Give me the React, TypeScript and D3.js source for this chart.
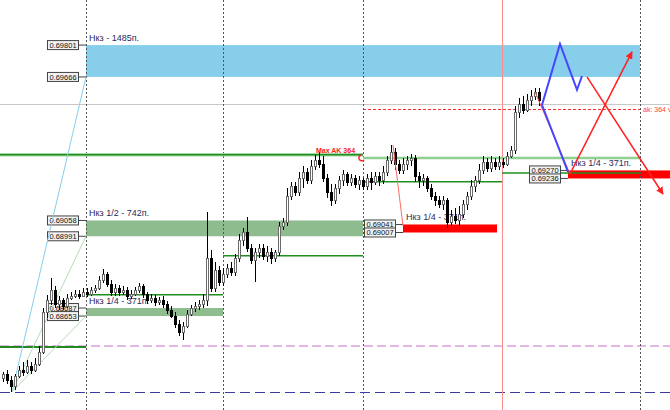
import React from "react";
import * as d3 from "d3";

const W = 670;
const H = 410;

// ---- candle data (bar index = position in array) ----
const opens = [0.68391,0.68408,0.68382,0.68357,0.684,0.68425,0.68417,0.68442,0.68425,0.6845,0.68501,0.68671,0.68721,0.68764,0.68704,0.68721,0.68696,0.6873,0.68739,0.68747,0.68739,0.68756,0.68747,0.68764,0.68772,0.68806,0.68831,0.68789,0.68756,0.68772,0.68756,0.68764,0.68739,0.68747,0.68764,0.68781,0.68747,0.68721,0.6873,0.68713,0.68721,0.68704,0.68679,0.68654,0.68619,0.68586,0.68611,0.68662,0.68687,0.68696,0.68704,0.68721,0.68899,0.68772,0.68848,0.68798,0.68831,0.68857,0.6884,0.68899,0.68975,0.6901,0.68941,0.68891,0.68925,0.68941,0.68908,0.68925,0.68899,0.68925,0.69035,0.69052,0.69162,0.69205,0.69179,0.69238,0.69264,0.6923,0.69289,0.69314,0.69297,0.69238,0.69179,0.69145,0.69196,0.6923,0.69255,0.69222,0.69238,0.69213,0.6923,0.69205,0.69238,0.69222,0.69247,0.6923,0.69264,0.69314,0.69349,0.69297,0.69272,0.69297,0.69314,0.69323,0.69247,0.6923,0.69238,0.69196,0.69162,0.69145,0.69128,0.69145,0.69052,0.69077,0.6906,0.69085,0.69128,0.69162,0.69205,0.6923,0.69272,0.69306,0.6928,0.69306,0.69289,0.69306,0.69297,0.69332,0.69357,0.69518,0.69551,0.69526,0.69568,0.69586,0.69603];
const highs = [0.68417,0.68425,0.684,0.68408,0.68442,0.68459,0.68467,0.68459,0.68475,0.68527,0.68687,0.68743,0.68814,0.68781,0.68739,0.6873,0.68747,0.68756,0.68764,0.68764,0.68772,0.68772,0.68776,0.68785,0.68823,0.68853,0.6884,0.68806,0.68789,0.68785,0.68781,0.68776,0.68764,0.68776,0.68793,0.68789,0.68756,0.68747,0.68743,0.68734,0.68739,0.68717,0.68696,0.68671,0.68636,0.68628,0.68679,0.687,0.68713,0.68721,0.68747,0.69094,0.68933,0.68883,0.68866,0.68857,0.68874,0.68883,0.68916,0.69001,0.69026,0.69072,0.68958,0.68941,0.68958,0.68958,0.6895,0.68941,0.68933,0.69052,0.69068,0.69196,0.69222,0.69222,0.69264,0.69289,0.6928,0.69314,0.69336,0.69349,0.69332,0.69255,0.69213,0.69213,0.69247,0.69272,0.69264,0.69255,0.69251,0.69247,0.69238,0.69255,0.69264,0.69264,0.69264,0.69289,0.69332,0.69378,0.69365,0.69314,0.69323,0.69332,0.6934,0.69336,0.69264,0.69255,0.69247,0.69213,0.69179,0.69162,0.69162,0.69153,0.69102,0.69111,0.6912,0.69145,0.69179,0.6923,0.69247,0.69297,0.69332,0.69323,0.69332,0.69323,0.69332,0.69323,0.69349,0.69374,0.69543,0.69577,0.69586,0.69594,0.69611,0.69619,0.69619];
const lows = [0.68374,0.68365,0.68332,0.6834,0.68391,0.684,0.68408,0.68408,0.68417,0.68442,0.68492,0.68645,0.687,0.68687,0.68679,0.68679,0.68687,0.68721,0.6873,0.68726,0.68734,0.68734,0.68739,0.68751,0.68764,0.68793,0.68776,0.68739,0.68739,0.68739,0.68743,0.68721,0.68726,0.68739,0.68751,0.6873,0.68704,0.68708,0.68696,0.687,0.68687,0.68662,0.68645,0.68602,0.68569,0.68552,0.68602,0.68654,0.68671,0.68679,0.68687,0.68696,0.68756,0.68756,0.68781,0.68781,0.68814,0.68823,0.68823,0.68883,0.6895,0.68925,0.68874,0.68798,0.68899,0.68891,0.68883,0.68874,0.68883,0.68908,0.69018,0.69035,0.69145,0.69162,0.69162,0.69196,0.69213,0.69213,0.69272,0.6928,0.69222,0.69153,0.6912,0.69128,0.6917,0.69205,0.69205,0.69205,0.69196,0.69187,0.69187,0.69187,0.69187,0.69209,0.69205,0.69213,0.69247,0.69297,0.69272,0.69255,0.69255,0.69272,0.69289,0.69222,0.69196,0.69205,0.69179,0.69145,0.6912,0.69111,0.69102,0.69026,0.69035,0.69043,0.69035,0.69068,0.69102,0.69145,0.69179,0.69213,0.69255,0.69264,0.69264,0.69272,0.69272,0.6928,0.69289,0.69323,0.6934,0.69492,0.69509,0.69518,0.69543,0.69568,0.69543];
const closes = [0.68408,0.68382,0.68357,0.684,0.68425,0.68417,0.68442,0.68425,0.6845,0.68501,0.68671,0.68721,0.68764,0.68704,0.68721,0.68696,0.6873,0.68739,0.68747,0.68739,0.68756,0.68747,0.68764,0.68772,0.68806,0.68831,0.68789,0.68756,0.68772,0.68756,0.68764,0.68739,0.68747,0.68764,0.68781,0.68747,0.68721,0.6873,0.68713,0.68721,0.68704,0.68679,0.68654,0.68619,0.68586,0.68611,0.68662,0.68687,0.68696,0.68704,0.68721,0.68899,0.68772,0.68848,0.68798,0.68831,0.68857,0.6884,0.68899,0.68975,0.6901,0.68941,0.68891,0.68925,0.68941,0.68908,0.68925,0.68899,0.68925,0.69035,0.69052,0.69162,0.69205,0.69179,0.69238,0.69264,0.6923,0.69289,0.69314,0.69297,0.69238,0.69179,0.69145,0.69196,0.6923,0.69255,0.69222,0.69238,0.69213,0.6923,0.69205,0.69238,0.69222,0.69247,0.6923,0.69264,0.69314,0.69349,0.69297,0.69272,0.69297,0.69314,0.69323,0.69247,0.6923,0.69238,0.69196,0.69162,0.69145,0.69128,0.69145,0.69052,0.69077,0.6906,0.69085,0.69128,0.69162,0.69205,0.6923,0.69272,0.69306,0.6928,0.69306,0.69289,0.69306,0.69297,0.69332,0.69357,0.69518,0.69551,0.69526,0.69568,0.69586,0.69603,0.69568];

// ---- chart frame in data units ----
const priceDomain = [0.68255, 0.69992];
const barDomain = [0, 166];

// period separators and current-bar marker (bar units)
const separatorBars = [20.75, 55, 90, 159.25];
const currentBar = 124.75;

// zones
const zoneTops = [0.69801, 0.69058, 0.68687, 0.69041, 0.6927];
const zoneBottoms = [0.69666, 0.68991, 0.68653, 0.69007, 0.69236];
const zoneStarts = [20.75, 20.75, 20.75, 100, 141.25];
const zoneEnds = [159.25, 90, 55, 123.5, 172];
const zoneNames = ["Нкз - 1485п.", "Нкз 1/2 - 742п.", "Нкз 1/4 - 371п.", "Нкз 1/4 - 371п.", "Нкз 1/4 - 371п."];
const zoneTopLabels = ["0.69801", "0.69058", "0.68687", "0.69041", "0.69270"];
const zoneBottomLabels = ["0.69666", "0.68991", "0.68653", "0.69007", "0.69236"];

// horizontal levels
const levelPrices = [0.69336, 0.69323, 0.69222, 0.69259, 0.68908, 0.68743, 0.68522];
const levelStarts = [-1, 90, 90, 124.75, 55, 20.75, -1];
const levelEnds = [90, 159.25, 124.75, 159.25, 90, 55, 20.75];

const bidPrice = 0.69551;
const askPrice = 0.6953;
const askSpan = [90, 159.25];
const pinkLevel = 0.68526;
const blueLevel = 0.68332;

// drawn projections
const bluePathBars = [141.25, 134.75, 139.25, 143.5, 144.75];
const bluePathPrices = [0.69264, 0.69547, 0.69806, 0.69611, 0.6967];
const redLineBars = [133, 141.75];
const redLinePrices = [0.69603, 0.69255];
const arrowUpBars = [141.75, 157.25];
const arrowUpPrices = [0.69255, 0.69772];
const arrowDownBars = [146, 165];
const arrowDownPrices = [0.69666, 0.6917];
const pinkLineBars = [97.5, 100];
const pinkLinePrices = [0.69378, 0.69035];

// fan from the low
const fanOriginBar = 2.25;
const fanOriginPrice = 0.68332;
const fanEndBar = 20.75;
const fanEndPrices = [0.69666, 0.68991, 0.68653];

const maxLabelBar = 78.25;
const maxLabelPrice = 0.69336;
const maxLabel = "Max AK 364";
const askLabel = "ak: 364 v";

export default function App() {
  const x = d3.scaleLinear().domain(barDomain).range([3, 667]);
  const y = d3.scaleLinear().domain(priceDomain).range([H, 0]);
  const line = d3.line<[number, number]>().x((d) => x(d[0])).y((d) => y(d[1]));
  const pts = (bs: number[], ps: number[]) => bs.map((b, i) => [b, ps[i]] as [number, number]);

  const zoneFill = ["#87ceeb", "#8fbc8f", "#8fbc8f", "#ff0000", "#ff0000"];
  const font = "'Liberation Sans', Arial, sans-serif";

  const levelStyle = (i: number) => {
    if (i === 1) return { stroke: "#8fcf8f", w: 2.5 };
    if (i === 6) return { stroke: "#1f8a1f", w: 2 };
    return { stroke: "#1f8f1f", w: 1.5 };
  };

  const priceBox = (px: number, py: number, label: string, key: string) => (
    <g key={key}>
      <line x1={px - 7} x2={px} y1={py} y2={py} stroke="#444" strokeWidth={1} />
      <rect x={px - 38.5} y={py - 4.5} width={31} height={9} fill="#f2f2f2" stroke="#444" strokeWidth={1} />
      <text x={px - 23} y={py + 3} fontSize={7.5} fontFamily={font} textAnchor="middle" fill="#111">
        {label}
      </text>
    </g>
  );

  return (
    <svg width={W} height={H} style={{ position: "absolute", left: 0, top: 0, background: "#fff" }}>
      <defs>
        <marker id="arrRed" viewBox="0 0 10 10" refX="9" refY="5" markerWidth="5" markerHeight="5" orient="auto">
          <path d="M0,0 L10,5 L0,10 z" fill="#ff2020" />
        </marker>
      </defs>

      {/* zones */}
      {zoneTops.map((t, i) => (
        <rect
          key={"z" + i}
          x={x(zoneStarts[i])}
          y={y(t)}
          width={Math.min(W, x(zoneEnds[i])) - x(zoneStarts[i])}
          height={y(zoneBottoms[i]) - y(t)}
          fill={zoneFill[i]}
        />
      ))}

      {/* full-width lines */}
      <line x1={0} x2={W} y1={Math.round(y(bidPrice)) + 0.5} y2={Math.round(y(bidPrice)) + 0.5} stroke="#c8c8c8" strokeWidth={1} />
      <line x1={0} x2={W} y1={y(pinkLevel)} y2={y(pinkLevel)} stroke="#d8a0dc" strokeWidth={1.5} strokeDasharray="9,4" />
      <line x1={0} x2={W} y1={Math.round(y(blueLevel)) + 0.5} y2={Math.round(y(blueLevel)) + 0.5} stroke="#3a3aa0" strokeWidth={1} strokeDasharray="10,5" />
      <line x1={x(askSpan[0])} x2={x(askSpan[1])} y1={Math.round(y(askPrice)) + 0.5} y2={Math.round(y(askPrice)) + 0.5} stroke="#ff2a2a" strokeWidth={1} strokeDasharray="3,2" />

      {/* separators */}
      {separatorBars.map((b, i) => (
        <line key={"s" + i} x1={Math.round(x(b)) + 0.5} x2={Math.round(x(b)) + 0.5} y1={0} y2={H} stroke="#555" strokeWidth={1} strokeDasharray="2,2" />
      ))}
      <line x1={Math.round(x(currentBar)) + 0.5} x2={Math.round(x(currentBar)) + 0.5} y1={0} y2={H} stroke="#ff8c8c" strokeWidth={1} />

      {/* green levels */}
      <line x1={x(levelStarts[0])} x2={x(levelEnds[0])} y1={y(levelPrices[0])} y2={y(levelPrices[0])} stroke="#a8d8a8" strokeWidth={3.5} />
      {levelPrices.map((p, i) => {
        const s = levelStyle(i);
        return (
          <line key={"l" + i} x1={x(levelStarts[i])} x2={x(levelEnds[i])} y1={y(p)} y2={y(p)} stroke={s.stroke} strokeWidth={s.w} />
        );
      })}

      {/* zone names */}
      {zoneNames.map((n, i) => (
        <text key={"zn" + i} x={x(zoneStarts[i]) + 3} y={y(zoneTops[i]) - 4} fontSize={9} fontFamily={font} fill="#2a2a5a">
          {n}
        </text>
      ))}

      {/* price boxes */}
      {zoneTops.map((t, i) => priceBox(x(zoneStarts[i]), y(t), zoneTopLabels[i], "pt" + i))}
      {zoneBottoms.map((b, i) => priceBox(x(zoneStarts[i]), y(b), zoneBottomLabels[i], "pb" + i))}

      {/* fan */}
      {fanEndPrices.map((p, i) => (
        <path
          key={"f" + i}
          d={line(pts([fanOriginBar, fanEndBar], [fanOriginPrice, p])) || ""}
          stroke={i === 0 ? "#87ceeb" : "#b4dcb4"}
          strokeWidth={1}
          fill="none"
        />
      ))}

      {/* candles */}
      {opens.map((o, i) => {
        const c = closes[i];
        const cx = Math.round(x(i));
        const bull = c >= o;
        const top = Math.round(y(Math.max(o, c)));
        const bot = Math.round(y(Math.min(o, c)));
        return (
          <g key={"c" + i}>
            <line x1={cx + 0.5} x2={cx + 0.5} y1={Math.round(y(highs[i]))} y2={Math.round(y(lows[i]))} stroke="#000" strokeWidth={1} />
            <rect
              x={cx - 1 + 0.5}
              y={top + 0.5}
              width={2}
              height={Math.max(1, bot - top)}
              fill={bull ? "#ffffff" : "#000000"}
              stroke={bull ? "#6a6a6a" : "#000"}
              strokeWidth={1}
            />
          </g>
        );
      })}

      {/* projections */}
      <path d={line(pts(pinkLineBars, pinkLinePrices)) || ""} stroke="#ff6a6a" strokeWidth={1} fill="none" />
      <path d={line(pts(redLineBars, redLinePrices)) || ""} stroke="#ff5050" strokeWidth={1} fill="none" />
      <path d={line(pts(bluePathBars, bluePathPrices)) || ""} stroke="#4646ff" strokeWidth={2} fill="none" strokeLinejoin="miter" />
      <path d={line(pts(arrowUpBars, arrowUpPrices)) || ""} stroke="#ff2020" strokeWidth={1.5} fill="none" markerEnd="url(#arrRed)" />
      <path d={line(pts(arrowDownBars, arrowDownPrices)) || ""} stroke="#ff2020" strokeWidth={1.5} fill="none" markerEnd="url(#arrRed)" />

      {/* labels */}
      <text x={x(maxLabelBar)} y={y(maxLabelPrice) - 2} fontSize={7} fontWeight="bold" fontFamily={font} fill="#ff2020">
        {maxLabel}
      </text>
      <path
        d={`M${x(separatorBars[2]) - 2},${y(levelPrices[1]) - 3} a3,3 0 1,0 3,5`}
        stroke="#ff2020"
        strokeWidth={1.5}
        fill="none"
      />
      <text x={x(separatorBars[3]) + 3} y={y(askPrice) + 3} fontSize={7} fontFamily={font} fill="#ff4040">
        {askLabel}
      </text>
    </svg>
  );
}
